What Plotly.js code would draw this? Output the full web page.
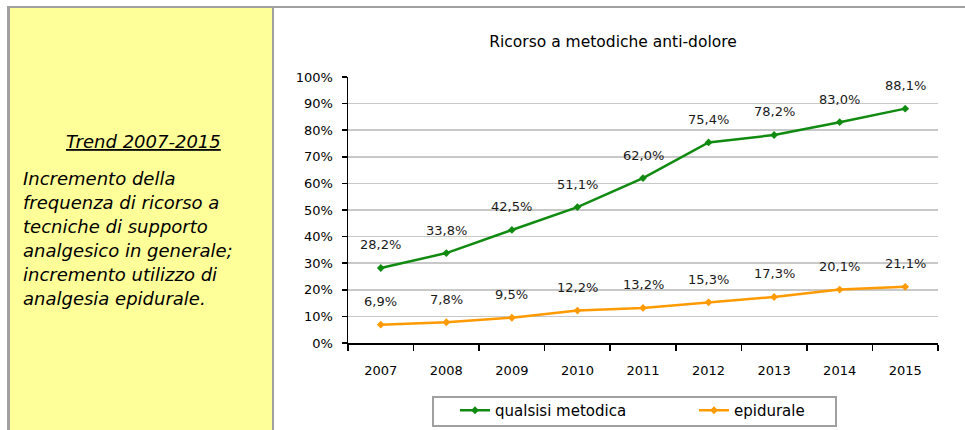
<!DOCTYPE html>
<html>
<head>
<meta charset="utf-8">
<script src="https://cdn.plot.ly/plotly-3.0.1.min.js"></script>
<style>html,body{margin:0;padding:0;background:#fff;}#chart{width:965px;height:430px;}</style>
</head>
<body>
<div id="chart"></div>
<script>
var years = ['2007','2008','2009','2010','2011','2012','2013','2014','2015'];
var qualsisi = [28.2, 33.8, 42.5, 51.1, 62.0, 75.4, 78.2, 83.0, 88.1];
var epidurale = [6.9, 7.8, 9.5, 12.2, 13.2, 15.3, 17.3, 20.1, 21.1];
var seriesNames = ['qualsisi metodica', 'epidurale'];
var chartTitle = 'Ricorso a metodiche anti-dolore';
var panelTitle = 'Trend 2007-2015';
var panelLines = ['Incremento della', 'frequenza di ricorso a', 'tecniche di supporto', 'analgesico in generale;', 'incremento utilizzo di', 'analgesia epidurale.'];

var W = 965, H = 430;
var mL = 348, mR = 27, mT = 77, mB = 87;
var pw = W - mL - mR, ph = H - mT - mB;
function px(x){ return (x - mL) / pw; }
function py(y){ return (H - mB - y) / ph; }
function fmt(v){ return v.toFixed(1).replace('.', ',') + '%'; }

var font = 'DejaVu Sans, Verdana, sans-serif';
var green = '#108a10', orange = '#ff9a00';

var traces = [
  {x: years, y: qualsisi, name: seriesNames[0], type: 'scatter', mode: 'lines+markers',
   line: {color: green, width: 2.5}, marker: {symbol: 'diamond', size: 6, color: green}},
  {x: years, y: epidurale, name: seriesNames[1], type: 'scatter', mode: 'lines+markers',
   line: {color: orange, width: 2.5}, marker: {symbol: 'diamond', size: 6, color: orange}}
];

var annotations = [];
[qualsisi, epidurale].forEach(function(arr){
  arr.forEach(function(v, i){
    annotations.push({x: i, y: v, xref: 'x', yref: 'y', text: fmt(v), showarrow: false,
      yshift: 23, font: {family: font, size: 13, color: '#1a1a1a'}});
  });
});
annotations.push({xref: 'paper', yref: 'paper', x: px(143), y: py(141), text: '<u>' + panelTitle + '</u>',
  showarrow: false, xanchor: 'center', yanchor: 'middle',
  font: {family: font, size: 18, color: '#000', style: 'italic'}});
panelLines.forEach(function(t, i){
  annotations.push({xref: 'paper', yref: 'paper', x: px(21), y: py(178 + i * 24), text: t,
    showarrow: false, xanchor: 'left', yanchor: 'middle',
    font: {family: font, size: 18, color: '#000', style: 'italic'}});
});

var shapes = [
  {type: 'rect', xref: 'paper', yref: 'paper', x0: px(8), x1: px(975), y0: py(440), y1: py(7),
   line: {color: '#a0a0a0', width: 2}, fillcolor: 'rgba(0,0,0,0)', layer: 'below'},
  {type: 'rect', xref: 'paper', yref: 'paper', x0: px(9), x1: px(273), y0: py(440), y1: py(7),
   line: {color: '#a0a0a0', width: 2}, fillcolor: '#ffff99', layer: 'below'},
  {type: 'rect', xref: 'paper', yref: 'paper', x0: px(433), x1: px(836), y0: py(426), y1: py(397),
   line: {color: '#a0a0a0', width: 2}, fillcolor: 'rgba(0,0,0,0)', layer: 'above'}
];

var layout = {
  width: W, height: H,
  margin: {l: mL, r: mR, t: mT, b: mB, autoexpand: false},
  paper_bgcolor: '#fff', plot_bgcolor: '#fff',
  title: {text: chartTitle, x: 613 / W, xanchor: 'center', y: 1 - 42 / H, yanchor: 'middle',
    font: {family: font, size: 15.5, color: '#000'}},
  xaxis: {type: 'category', range: [-0.5, 8.5], showline: true, linecolor: '#000', linewidth: 1.5,
    ticks: 'outside', tickson: 'boundaries', ticklen: 6, tickcolor: '#000', tickwidth: 1.5,
    showgrid: false, ticklabelstandoff: 15, tickfont: {family: font, size: 13, color: '#000'}},
  yaxis: {range: [0, 100], dtick: 10, ticksuffix: '%', showline: true, linecolor: '#000', linewidth: 1.5,
    ticks: 'outside', ticklen: 5, tickcolor: '#000', tickwidth: 1.5, gridcolor: '#c8c8c8', gridwidth: 1.5,
    zeroline: false, ticklabelstandoff: 6, tickfont: {family: font, size: 13, color: '#000'}},
  showlegend: true,
  legend: {orientation: 'h', x: px(455), xanchor: 'left', y: py(394), yanchor: 'top',
    borderwidth: 0, bgcolor: 'rgba(0,0,0,0)', entrywidth: 194,
    font: {family: font, size: 15, color: '#000'}},
  annotations: annotations,
  shapes: shapes
};

Plotly.newPlot('chart', traces, layout, {displayModeBar: false, staticPlot: true});
</script>
</body>
</html>
